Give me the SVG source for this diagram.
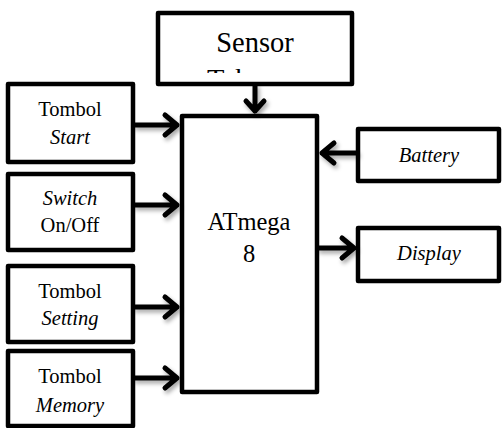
<svg xmlns="http://www.w3.org/2000/svg" width="502" height="428" viewBox="0 0 502 428" font-family="Liberation Serif, serif">
<style>
.box{fill:#fff;stroke:#000;stroke-width:4.5;stroke-linejoin:round}
text{fill:#000;text-anchor:middle}
.s{font-size:20.5px}
.i{font-style:italic}
.ln{fill:none;stroke:#000;stroke-width:5;stroke-linecap:round;stroke-linejoin:round}
</style>
<defs>
<filter id="sh" x="-20%" y="-20%" width="150%" height="160%">
<feDropShadow dx="2" dy="3" stdDeviation="2" flood-color="#000" flood-opacity="0.35"/>
</filter>
<clipPath id="cl"><rect x="160" y="14" width="190" height="59"/></clipPath>
</defs>
<g id="sensor">
<rect class="box" x="158" y="13" width="194" height="71"/>
<text x="255" y="52" font-size="28.5">Sensor</text>
<text x="255" y="89" font-size="28.5" clip-path="url(#cl)">Tekanan</text>
</g>
<g id="atmega">
<rect class="box" x="182" y="116" width="135" height="276"/>
<text x="249" y="230" font-size="24.5">ATmega</text>
<text x="249" y="262" font-size="24.5">8</text>
</g>
<g id="start">
<rect class="box" x="8" y="84" width="125" height="78"/>
<text class="s" x="70" y="116">Tombol</text>
<text class="s i" x="70" y="144">Start</text>
</g>
<g id="switch">
<rect class="box" x="8" y="174" width="125" height="76"/>
<text class="s i" x="70" y="205">Switch</text>
<text class="s" x="70" y="232">On/Off</text>
</g>
<g id="setting">
<rect class="box" x="8" y="266" width="125" height="76"/>
<text class="s" x="70" y="298">Tombol</text>
<text class="s i" x="70" y="325">Setting</text>
</g>
<g id="memory">
<rect class="box" x="8" y="351" width="125" height="75"/>
<text class="s" x="70" y="383">Tombol</text>
<text class="s i" x="70" y="412">Memory</text>
</g>
<g id="battery">
<rect class="box" x="358" y="129" width="141" height="52"/>
<text class="s i" x="429" y="162">Battery</text>
</g>
<g id="display">
<rect class="box" x="358" y="228" width="141" height="53"/>
<text class="s i" x="429" y="260">Display</text>
</g>
<g id="connectors" filter="url(#sh)">
<path class="ln" d="M255 86V111M246 101L255 111L264 101"/>
<path class="ln" d="M135 125H177M165 115L177 125L165 135"/>
<path class="ln" d="M135 205H177M165 195L177 205L165 215"/>
<path class="ln" d="M135 307H177M165 297L177 307L165 317"/>
<path class="ln" d="M135 378H177M165 368L177 378L165 388"/>
<path class="ln" d="M356 153H322M334 143L322 153L334 163"/>
<path class="ln" d="M319 248H354M342 238L354 248L342 258"/>
</g>
</svg>
